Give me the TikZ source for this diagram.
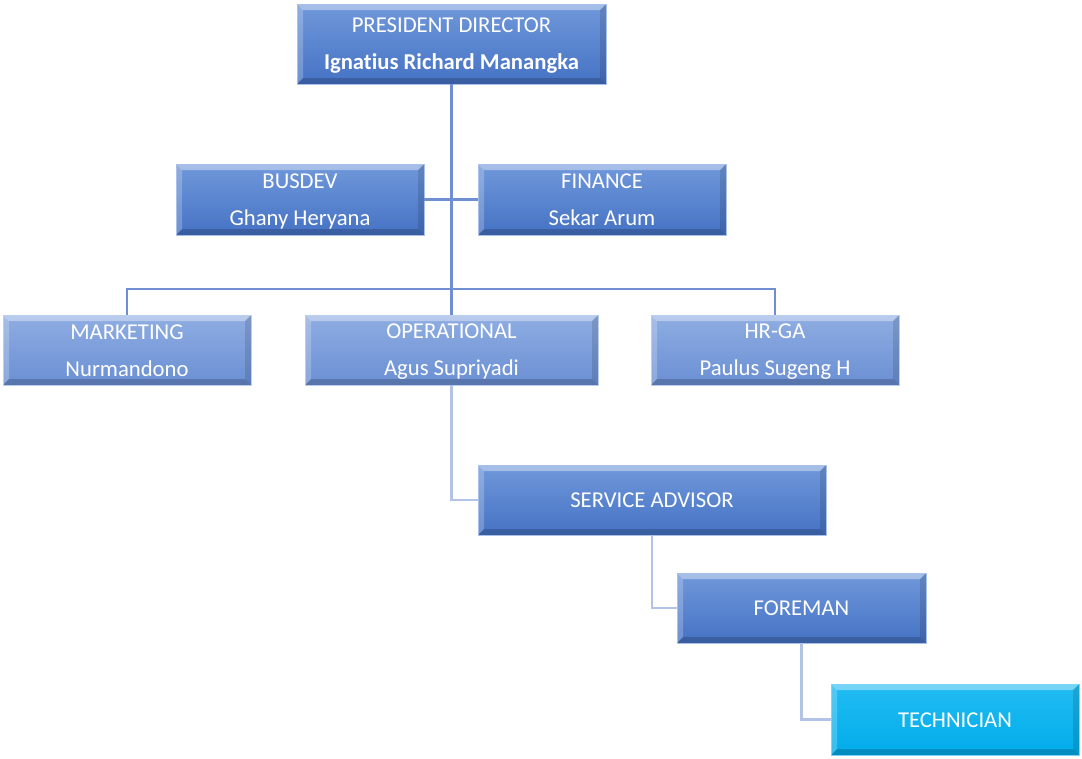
\documentclass[tikz,border=0pt]{standalone}
\usepackage{fontspec}
\setmainfont{Carlito}[Ligatures={NoCommon}]
\newcommand\bevw{4.5pt}
\newcommand\lnst{\rule[-2.05pt]{0pt}{16pt}}
\definecolor{darktop}{HTML}{7098DA}
\definecolor{darkbot}{HTML}{4572C4}
\definecolor{lighttop}{HTML}{8FADE2}
\definecolor{lightbot}{HTML}{6A8FD3}
\definecolor{techtop}{HTML}{22BCF2}
\definecolor{techbot}{HTML}{00ACEA}
\definecolor{linemain}{HTML}{6F8FD2}
\definecolor{linesub}{HTML}{B3C3E8}
\tikzset{
  bevel/.style={path picture={
    \fill[white,opacity=.38] (path picture bounding box.north west) -- (path picture bounding box.north east)
      -- ([xshift=-\bevw,yshift=-\bevw]path picture bounding box.north east)
      -- ([xshift=\bevw,yshift=-\bevw]path picture bounding box.north west) -- cycle;
    \fill[white,opacity=.22] (path picture bounding box.north west) -- ([xshift=\bevw,yshift=-\bevw]path picture bounding box.north west)
      -- ([xshift=\bevw,yshift=\bevw]path picture bounding box.south west)
      -- (path picture bounding box.south west) -- cycle;
    \fill[black,opacity=.12] (path picture bounding box.north east) -- ([xshift=-\bevw,yshift=-\bevw]path picture bounding box.north east)
      -- ([xshift=-\bevw,yshift=\bevw]path picture bounding box.south east)
      -- (path picture bounding box.south east) -- cycle;
    \fill[black,opacity=.18] (path picture bounding box.south west) -- ([xshift=\bevw,yshift=\bevw]path picture bounding box.south west)
      -- ([xshift=-\bevw,yshift=\bevw]path picture bounding box.south east)
      -- (path picture bounding box.south east) -- cycle;
  }},
  orgbox/.style={rectangle, inner sep=0pt, align=center, text=white, bevel,
    font=\fontsize{17pt}{27.75pt}\selectfont, line width=0.6pt},
  darkbox/.style={orgbox, top color=darktop, bottom color=darkbot, draw=darktop!60!white},
  lightbox/.style={orgbox, top color=lighttop, bottom color=lightbot, draw=lighttop!60!white},
  techbox/.style={orgbox, top color=techtop, bottom color=techbot, draw=techtop!60!white},
  mainline/.style={draw=linemain, line width=1.6pt},
  subline/.style={draw=linesub, line width=1.6pt},
}
\begin{document}
\begin{tikzpicture}[x=0.75pt,y=-0.75pt]
\useasboundingbox (0,0) rectangle (1082,758);
\coordinate (bus) at (451.5,289);
\node[darkbox, minimum width=231.75pt, minimum height=60pt] (pres) at (451.5,44) {\lnst PRESIDENT DIRECTOR\\\lnst\textbf{Ignatius Richard Manangka}};
\node[darkbox, minimum width=186pt, minimum height=53.25pt] (busdev) at (300,199.5) {\lnst BUSDEV\\\lnst Ghany Heryana};
\node[darkbox, minimum width=186pt, minimum height=53.25pt] (finance) at (602,199.5) {\lnst FINANCE\\\lnst Sekar Arum};
\node[lightbox, minimum width=186pt, minimum height=52.5pt] (marketing) at (127,350) {\lnst MARKETING\\\lnst Nurmandono};
\node[lightbox, minimum width=219.75pt, minimum height=52.5pt] (operational) at (451.5,350) {\lnst OPERATIONAL\\\lnst Agus Supriyadi};
\node[lightbox, minimum width=186pt, minimum height=52.5pt] (hrga) at (775,350) {\lnst HR-GA\\\lnst Paulus Sugeng H};
\node[darkbox, minimum width=261pt, minimum height=52.5pt] (sa) at (652,500) {\lnst SERVICE ADVISOR};
\node[darkbox, minimum width=186.75pt, minimum height=52.5pt] (foreman) at (801.5,608) {\lnst FOREMAN};
\node[techbox, minimum width=186pt, minimum height=53.25pt] (tech) at (955,719.5) {\lnst TECHNICIAN};
\draw[mainline] (pres.south) -- (bus);
\draw[mainline] (busdev.east) -- (finance.west);
\draw[mainline] (marketing.north) |- (bus) -| (hrga.north);
\draw[mainline] (bus) -- (operational.north);
\draw[subline] (operational.south) |- (sa.west);
\draw[subline] (sa.south) |- (foreman.west);
\draw[subline] (foreman.south) |- (tech.west);
\end{tikzpicture}
\end{document}
